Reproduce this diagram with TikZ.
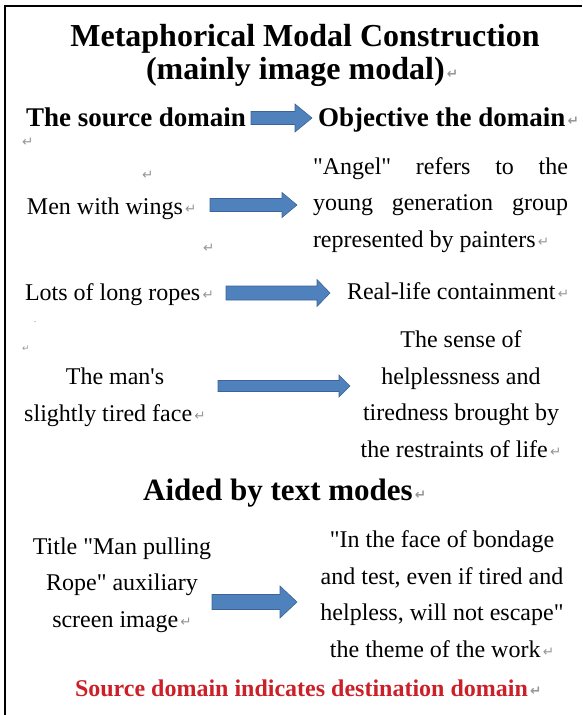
\documentclass[tikz,border=0pt]{standalone}
\usepackage{fontspec}
\setmainfont{Liberation Serif}[Ligatures=TeXOff]
\newfontfamily\markfont{DejaVu Sans}
\usetikzlibrary{calc}
\definecolor{arrowblue}{RGB}{79,129,189}
\definecolor{arrowedge}{RGB}{60,100,150}
\definecolor{srcred}{RGB}{204,32,40}
\definecolor{markgray}{RGB}{150,150,150}
\newcommand\pmk{{\markfont\color{markgray}\fontsize{13.5}{13.5}\selectfont\,\raisebox{1pt}{↵}}}
\newcommand\pmkalone{{\markfont\color{markgray}\fontsize{13.5}{13.5}\selectfont ↵}}
% tail, tip, shaft half height, head half height, head length
\newcommand\blockarr[5]{%
  \filldraw[blockarrow] ($(#1)+(0,#3)$) -- ($(#2)+(-#5,#3)$) -- ($(#2)+(-#5,#4)$) -- (#2)
    -- ($(#2)+(-#5,-#4)$) -- ($(#2)+(-#5,-#3)$) -- ($(#1)+(0,-#3)$) -- cycle;}
\tikzset{
  blockarrow/.style={fill=arrowblue, draw=arrowedge, line width=0.6pt, line join=miter},
  txt/.style={inner sep=0pt, outer sep=0pt, font=\fontsize{24}{36.5}\selectfont},
  headtxt/.style={inner sep=0pt, outer sep=0pt, font=\fontsize{27}{32}\selectfont\bfseries},
  titletxt/.style={inner sep=0pt, outer sep=0pt, font=\fontsize{32}{36}\selectfont\bfseries, align=center},
  redtxt/.style={inner sep=0pt, outer sep=0pt, font=\fontsize{24}{30}\selectfont\bfseries, text=srcred},
  frameline/.style={line width=1.8pt, black},
}
\begin{document}
\begin{tikzpicture}[x=1pt,y=-1pt]
\useasboundingbox (0,0) rectangle (582,715);
% frame
\coordinate (ftr) at (582,6);
\coordinate (ftl) at (5,6);
\coordinate (fbl) at (5,715);
\draw[frameline] (ftr) -- (ftl) -- (fbl);

% title
\node[titletxt, anchor=base] (title1) at (305,46) {Metaphorical Modal Construction};
\node[titletxt, anchor=base west] (title2) at (146,79) {(mainly image modal)\pmk};

% header row
\node[headtxt, anchor=base west] (src) at (26,126) {The source domain};
\node[headtxt, anchor=base west] (obj) at (318,126) {Objective the domain\pmk};
\coordinate (h0) at (251,118);
\coordinate (h1) at (312,118);
\blockarr{h0}{h1}{6.5}{14}{17}
\node[anchor=base west, inner sep=0pt] (m1) at (22,146) {\pmkalone};

% row 1
\node[anchor=base west, inner sep=0pt] (m2) at (142,179) {\pmkalone};
\node[txt, anchor=base west] (s1) at (27,214) {Men with wings\pmk};
\node[txt, anchor=base west, align=left] (t1) at (313,247)
  {\makebox[255pt][s]{"Angel" refers to the}\\\makebox[255pt][s]{young generation group}\\represented by painters\pmk};
\coordinate (a1s) at (210,205);
\coordinate (a1e) at (297,205);
\blockarr{a1s}{a1e}{6.5}{12.5}{15}
\node[anchor=base west, inner sep=0pt] (m3) at (203,252) {\pmkalone};

% row 2
\node[txt, anchor=base west] (s2) at (25,300) {Lots of long ropes\pmk};
\node[txt, anchor=base west] (t2) at (347,299) {Real-life containment\pmk};
\coordinate (a2s) at (226,293);
\coordinate (a2e) at (330,293);
\blockarr{a2s}{a2e}{7}{13.5}{13}
\node[inner sep=0pt, font=\fontsize{10}{10}\selectfont, text=markgray] (dot1) at (35,322) {.};
\node[anchor=base west, inner sep=0pt] (m4) at (22,351) {{\markfont\color{markgray}\fontsize{9}{9}\selectfont ↵}};

% row 3
\node[txt, anchor=base, align=center] (s3) at (115,421) {The man's\\slightly tired face\pmk};
\node[txt, anchor=base, align=center] (t3) at (461,457)
  {The sense of\\helplessness and\\tiredness brought by\\the restraints of life\pmk};
\coordinate (a3s) at (218,386);
\coordinate (a3e) at (350,386);
\blockarr{a3s}{a3e}{5.5}{11}{11}

% aided by text modes
\node[anchor=base west, inner sep=0pt, font=\fontsize{31}{36}\selectfont\bfseries] (aid) at (143,500) {Aided by text modes\pmk};

% row 4
\node[txt, anchor=base, align=center] (s4) at (122,627)
  {Title "Man pulling\\Rope" auxiliary\\screen image\pmk};
\node[txt, anchor=base, align=center] (t4) at (442,657)
  {"In the face of bondage\\and test, even if tired and\\helpless, will not escape"\\the theme of the work\pmk};
\coordinate (a4s) at (212,602);
\coordinate (a4e) at (297,602);
\blockarr{a4s}{a4e}{7.5}{16}{17}

% bottom red line
\node[redtxt, anchor=base west] (note) at (75,696) {Source domain indicates destination domain\pmk};
\end{tikzpicture}
\end{document}
